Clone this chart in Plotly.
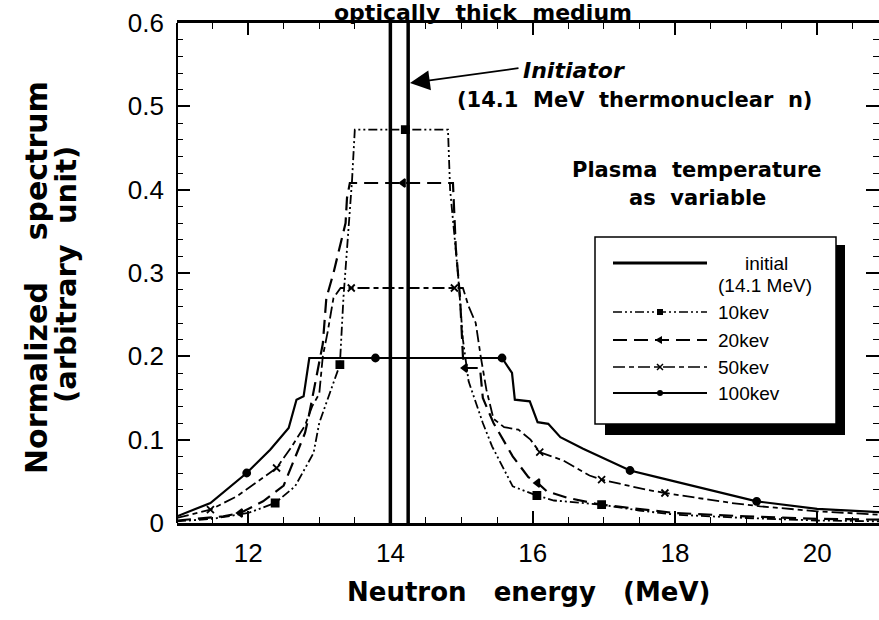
import plotly.graph_objects as go

# ---- spectra (normalized, arbitrary unit) vs neutron energy (MeV) ----
initial_x = [14.0, 14.0, 14.25, 14.25]
initial_y = [0.0, 4.0, 4.0, 0.0]

kev10_x = [11.0, 11.5, 12.0, 12.38, 12.66, 12.92, 13.0, 13.2, 13.29, 13.34, 13.46, 13.5,
           14.21, 14.81, 14.84, 14.95, 15.02, 15.1, 15.3, 15.43, 15.72, 16.06, 16.3,
           16.97, 17.5, 18.0, 19.0, 20.0, 20.87]
kev10_y = [0.002, 0.005, 0.012, 0.024, 0.044, 0.084, 0.12, 0.17, 0.19, 0.27, 0.41, 0.472,
           0.472, 0.472, 0.40, 0.30, 0.22, 0.17, 0.12, 0.092, 0.044, 0.033, 0.027,
           0.022, 0.015, 0.010, 0.006, 0.003, 0.002]
kev10_marks = [3, 8, 12, 21, 23]

kev20_x = [11.0, 11.65, 11.89, 12.21, 12.5, 12.8, 12.85, 13.05, 13.1, 13.2, 13.37, 13.39, 13.43,
           14.18, 14.88, 14.92, 14.98, 15.02, 15.05, 15.26, 15.3, 15.45, 15.72, 15.94, 16.07,
           16.2, 16.5, 16.96, 17.4, 18.0, 19.0, 20.0, 20.87]
kev20_y = [0.003, 0.008, 0.012, 0.026, 0.045, 0.108, 0.127, 0.215, 0.27, 0.30, 0.36, 0.39, 0.408,
           0.408, 0.408, 0.33, 0.27, 0.20, 0.186, 0.186, 0.15, 0.12, 0.08, 0.055, 0.048,
           0.038, 0.030, 0.022, 0.018, 0.012, 0.008, 0.005, 0.004]
kev20_marks = [2, 13, 18, 24]

kev50_x = [11.0, 11.47, 11.84, 12.14, 12.4, 12.6, 12.8, 12.9, 13.0, 13.05, 13.12, 13.2, 13.3,
           13.45, 14.9, 15.02, 15.1, 15.2, 15.27, 15.35, 15.45, 15.6, 15.8, 15.97, 16.1, 16.43,
           16.8, 16.97, 17.6, 17.86, 18.25, 18.8, 19.2, 20.0, 20.87]
kev50_y = [0.006, 0.016, 0.032, 0.050, 0.066, 0.090, 0.117, 0.140, 0.155, 0.20, 0.23, 0.27, 0.282,
           0.282, 0.282, 0.282, 0.26, 0.24, 0.20, 0.16, 0.125, 0.115, 0.112, 0.10, 0.085, 0.075,
           0.057, 0.052, 0.040, 0.036, 0.031, 0.024, 0.020, 0.014, 0.010]
kev50_marks = [1, 4, 13, 14, 24, 27, 29]

kev100_x = [11.0, 11.47, 11.98, 12.31, 12.57, 12.68, 12.78, 12.86, 13.79, 15.57, 15.71, 15.75,
            15.96, 16.07, 16.22, 16.39, 16.71, 17.0, 17.37, 17.75, 18.36, 19.15, 20.0, 20.87]
kev100_y = [0.008, 0.024, 0.060, 0.088, 0.114, 0.148, 0.152, 0.198, 0.198, 0.198, 0.180, 0.148,
            0.146, 0.121, 0.119, 0.103, 0.089, 0.078, 0.063, 0.055, 0.042, 0.026, 0.017, 0.013]
kev100_marks = [2, 8, 9, 18, 21]

x_range = [11.0, 20.87]
y_range = [0.0, 0.6]

# ---- styles ----
BOLD = "DejaVu Sans"
PLAIN = "Liberation Sans"
DASH10 = "9px,3px,2px,3px,2px,3px"
DASH20 = "14px,7px"
DASH50 = "12px,4px,5px,4px"

W, H = 879, 620
PL, PR, PT, PB = 177, 879, 23, 523


def px(x):
    return (x - PL) / (PR - PL)


def py(y):
    return (PB - y) / (PB - PT)


fig = go.Figure()

series = [
    ("initial", initial_x, initial_y, "solid", 3.5, None, None),
    ("10kev", kev10_x, kev10_y, DASH10, 1.8, "square", kev10_marks),
    ("20kev", kev20_x, kev20_y, DASH20, 2.2, "triangle-left", kev20_marks),
    ("50kev", kev50_x, kev50_y, DASH50, 1.8, "x-thin", kev50_marks),
    ("100kev", kev100_x, kev100_y, "solid", 2.2, "circle", kev100_marks),
]

for name, xs, ys, dash, width, sym, marks in series:
    fig.add_trace(go.Scatter(x=xs, y=ys, mode="lines", name=name,
                             line=dict(color="black", width=width, dash=dash),
                             showlegend=False, hoverinfo="skip"))
    if marks:
        fig.add_trace(go.Scatter(
            x=[xs[i] for i in marks], y=[ys[i] for i in marks], mode="markers",
            marker=dict(symbol=sym, size=7, color="black",
                        line=dict(color="black", width=1.8)),
            showlegend=False, hoverinfo="skip"))

shapes = []
annotations = []

# left frame line
shapes.append(dict(type="line", xref="paper", yref="paper", x0=0, x1=0, y0=0, y1=1,
                   line=dict(color="black", width=2)))

# legend box with drop shadow
shapes.append(dict(type="rect", xref="paper", yref="paper", layer="above",
                   x0=px(605), x1=px(845), y0=py(435), y1=py(245),
                   fillcolor="black", line=dict(width=0)))
shapes.append(dict(type="rect", xref="paper", yref="paper", layer="above",
                   x0=px(595), x1=px(836), y0=py(424), y1=py(237),
                   fillcolor="white", line=dict(color="black", width=1.5)))

legend_rows = [
    ("initial", 263, "solid", 3.0, None),
    ("10kev", 312, DASH10, 1.6, "square"),
    ("20kev", 340, DASH20, 2.2, "arrow"),
    ("50kev", 367, DASH50, 1.6, "x"),
    ("100kev", 393, "solid", 1.8, "circle"),
]
for label, yy, dash, width, sym in legend_rows:
    shapes.append(dict(type="line", xref="paper", yref="paper", layer="above",
                       x0=px(613), x1=px(707), y0=py(yy), y1=py(yy),
                       line=dict(color="black", width=width, dash=dash)))
    mx = 660
    if sym == "square":
        shapes.append(dict(type="rect", xref="paper", yref="paper", layer="above",
                           x0=px(mx - 3), x1=px(mx + 3), y0=py(yy + 3), y1=py(yy - 3),
                           fillcolor="black", line=dict(width=0)))
    elif sym == "circle":
        shapes.append(dict(type="circle", xref="paper", yref="paper", layer="above",
                           x0=px(mx - 3), x1=px(mx + 3), y0=py(yy + 3), y1=py(yy - 3),
                           fillcolor="black", line=dict(width=0)))
    elif sym == "x":
        for d in (1, -1):
            shapes.append(dict(type="line", xref="paper", yref="paper", layer="above",
                               x0=px(mx - 3), x1=px(mx + 3), y0=py(yy - 3 * d), y1=py(yy + 3 * d),
                               line=dict(color="black", width=1.5)))
    elif sym == "arrow":
        shapes.append(dict(type="path", xref="paper", yref="paper", layer="above",
                           path=f"M {px(mx - 5)} {py(yy)} L {px(mx + 2)} {py(yy - 4)} "
                                f"L {px(mx + 2)} {py(yy + 4)} Z",
                           fillcolor="black", line=dict(width=0)))
    if label == "initial":
        annotations.append(dict(text="initial", x=px(766), y=py(yy), xref="paper", yref="paper",
                                showarrow=False, xanchor="center", yanchor="middle",
                                font=dict(family=PLAIN, size=19, color="black")))
        annotations.append(dict(text="(14.1 MeV)", x=px(716), y=py(285), xref="paper",
                                yref="paper", showarrow=False, xanchor="left", yanchor="middle",
                                font=dict(family=PLAIN, size=19, color="black")))
    else:
        annotations.append(dict(text=label, x=px(716), y=py(yy), xref="paper", yref="paper",
                                showarrow=False, xanchor="left", yanchor="middle",
                                font=dict(family=PLAIN, size=19, color="black")))

NB = "\u00a0"
bold = lambda s: dict(family=BOLD, size=s, color="black", weight="bold")

annotations += [
    dict(text=f"optically{NB*2}thick{NB*2}medium", x=px(483), y=py(13), xref="paper",
         yref="paper", showarrow=False, xanchor="center", yanchor="middle", font=bold(22)),
    dict(text=f"Neutron{NB*3}energy{NB*3}(MeV)", x=px(528), y=py(592), xref="paper",
         yref="paper", showarrow=False, xanchor="center", yanchor="middle", font=bold(26)),
    dict(text=f"Normalized{NB*4}spectrum", x=px(36), y=py(278), xref="paper", yref="paper",
         showarrow=False, textangle=-90, xanchor="center", yanchor="middle", font=bold(30)),
    dict(text=f"(arbitrary{NB*2}unit)", x=px(66), y=py(275), xref="paper", yref="paper",
         showarrow=False, textangle=-90, xanchor="center", yanchor="middle", font=bold(29)),
    dict(text=f"Plasma{NB*2}temperature", x=px(697), y=py(170), xref="paper", yref="paper",
         showarrow=False, xanchor="center", yanchor="middle", font=bold(21)),
    dict(text=f"as{NB*2}variable", x=px(697), y=py(198), xref="paper", yref="paper",
         showarrow=False, xanchor="center", yanchor="middle", font=bold(21)),
    dict(text="Initiator", x=px(521), y=py(71), xref="paper", yref="paper",
         showarrow=False, xanchor="left", yanchor="middle",
         font=dict(family=BOLD, size=22, color="black", weight="bold", style="italic")),
    dict(text=f"(14.1{NB*2}MeV{NB*2}thermonuclear{NB*2}n)", x=px(455), y=py(100),
         xref="paper", yref="paper", showarrow=False, xanchor="left", yanchor="middle",
         font=bold(21)),
    # arrow pointing at the initiator line
    dict(text="", x=px(410), y=py(83), xref="paper", yref="paper", showarrow=True,
         ax=110, ay=-15, arrowhead=2, arrowsize=2.2, arrowwidth=1.8, arrowcolor="black",
         standoff=0),
]

fig.update_layout(
    width=W, height=H,
    margin=dict(l=PL, r=W - PR, t=PT, b=H - PB, pad=0),
    paper_bgcolor="white", plot_bgcolor="white",
    showlegend=False,
    shapes=shapes, annotations=annotations,
    xaxis=dict(range=x_range, tick0=12, dtick=2, ticks="inside", ticklen=12, tickwidth=1.5,
               tickcolor="black", showline=True, linewidth=2.5, linecolor="black",
               mirror="allticks", showgrid=False, zeroline=False, ticklabelstandoff=5,
               tickfont=dict(family=PLAIN, size=26, color="black"),
               minor=dict(dtick=0.5, tick0=11, ticks="inside", ticklen=6, tickwidth=1.2,
                          tickcolor="black", showgrid=False)),
    yaxis=dict(range=y_range, tick0=0, dtick=0.1, ticks="inside", ticklen=13, tickwidth=1.5,
               tickcolor="black", showline=False, mirror="ticks", showgrid=False,
               zeroline=False, ticklabelstandoff=12,
               tickfont=dict(family=PLAIN, size=26, color="black"),
               minor=dict(dtick=0.02, tick0=0, ticks="inside", ticklen=6, tickwidth=1.2,
                          tickcolor="black", showgrid=False)),
)

fig.write_html("out.html")
